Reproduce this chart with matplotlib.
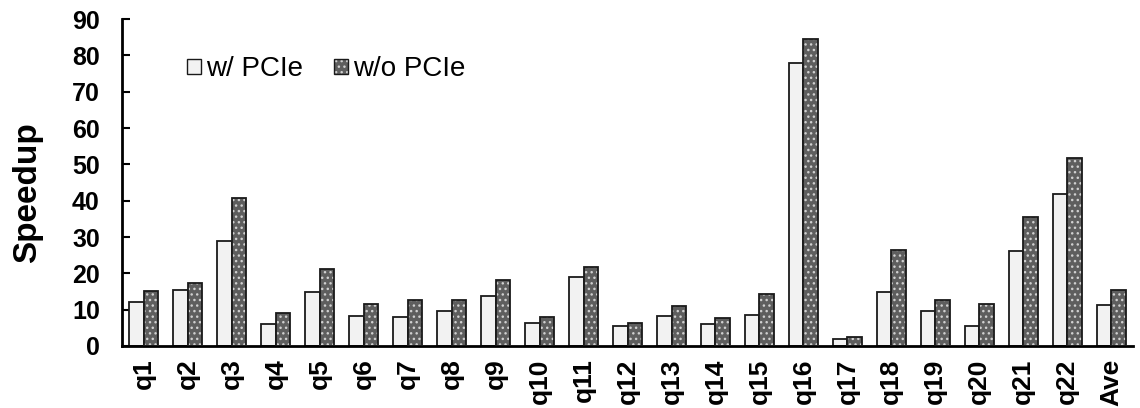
import numpy as np
import matplotlib
matplotlib.use("Agg")
import matplotlib.pyplot as plt
from matplotlib.patches import Patch

plt.rcParams["font.family"] = ["Liberation Sans", "DejaVu Sans"]

# data
queries = ["q1", "q2", "q3", "q4", "q5", "q6", "q7", "q8", "q9", "q10", "q11",
           "q12", "q13", "q14", "q15", "q16", "q17", "q18", "q19", "q20", "q21",
           "q22", "Ave"]
with_pcie = [12.2, 15.4, 29.0, 6.0, 14.9, 8.3, 7.9, 9.7, 13.7, 6.2, 19.1,
             5.4, 8.2, 6.1, 8.4, 77.8, 2.0, 14.9, 9.7, 5.4, 26.1, 41.8, 11.3]
without_pcie = [15.1, 17.4, 40.7, 9.2, 21.3, 11.6, 12.8, 12.7, 18.3, 7.9, 21.8,
                6.2, 10.9, 7.6, 14.2, 84.6, 2.5, 26.4, 12.8, 11.6, 35.5, 51.7, 15.4]
y_ticks = [0, 10, 20, 30, 40, 50, 60, 70, 80, 90]

fig = plt.figure(figsize=(11.4, 4.08), dpi=100)
ax = fig.add_axes([0.107, 0.152, 0.887, 0.801])

x = np.arange(len(queries))
w = 0.33

ax.bar(x - w / 2, with_pcie, w, color="#f2f2f2", edgecolor="#1a1a1a",
       linewidth=1.3, label="w/ PCIe", zorder=2)
# dotted fill first, then the black outline on top
ax.bar(x + w / 2, without_pcie, w, color="#5e5e5e", edgecolor="#d0d0d0",
       hatch="...", linewidth=0, zorder=2)
ax.bar(x + w / 2, without_pcie, w, color="none", edgecolor="#1a1a1a",
       linewidth=1.3, zorder=3)

# legend proxies for the dotted bars
h1 = Patch(facecolor="#f2f2f2", edgecolor="#1a1a1a", linewidth=1.0)
h2 = Patch(facecolor="#5e5e5e", edgecolor="#d0d0d0", hatch="...", linewidth=0)
h2b = Patch(facecolor="none", edgecolor="#1a1a1a", linewidth=1.0)
ax.legend([h1, (h2, h2b)], ["w/ PCIe", "w/o PCIe"], ncol=2, frameon=False,
          loc="upper left", bbox_to_anchor=(0.053, 0.92), fontsize=20,
          handlelength=0.5, handleheight=0.5, handletextpad=0.2,
          columnspacing=1.1, borderaxespad=0)

ax.set_xlim(-0.5, len(queries) - 0.5)
ax.set_ylim(0, 90)
ax.set_yticks(y_ticks)
ax.set_xticks(x)
ax.set_xticklabels(queries, rotation=90, fontweight="bold", fontsize=19)
for lab in ax.get_yticklabels():
    lab.set_fontweight("bold")
ax.tick_params(axis="y", direction="in", length=6, width=1.5, labelsize=18, pad=16)
ax.tick_params(axis="x", length=0, pad=9)

for s in ["top", "right"]:
    ax.spines[s].set_visible(False)
for s in ["left", "bottom"]:
    ax.spines[s].set_linewidth(2)
    ax.spines[s].set_color("black")

fig.text(0.024, 0.527, "Speedup", rotation=90, ha="center", va="center",
         fontsize=24, fontweight="bold")

fig.savefig("out.png", dpi=100)
